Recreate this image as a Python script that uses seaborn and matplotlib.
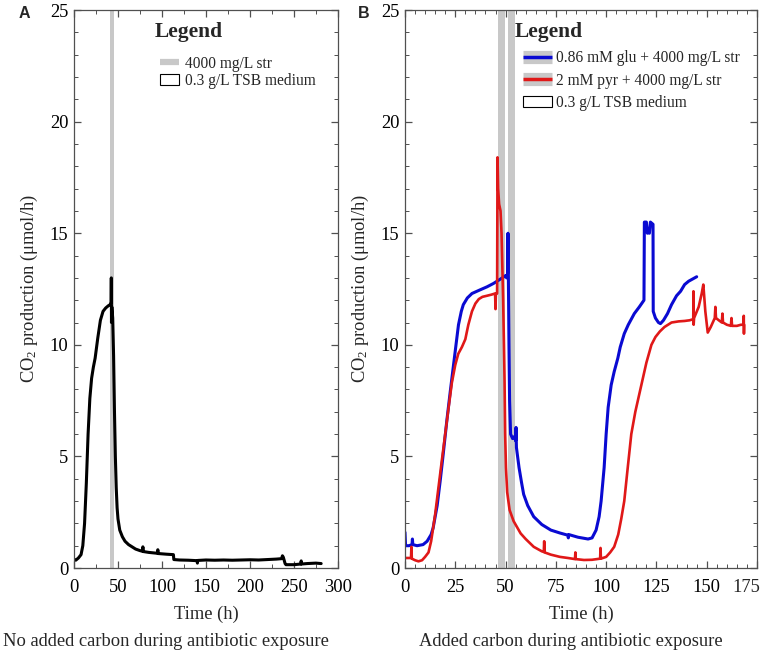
"""CO2 production during antibiotic exposure, with and without added carbon."""

import matplotlib
matplotlib.use("Agg")
import matplotlib.pyplot as plt
import matplotlib.transforms as mtransforms
from matplotlib.lines import Line2D
from matplotlib.patches import Patch
from matplotlib.ticker import FuncFormatter, MultipleLocator
import pandas as pd
import seaborn as sns

# Panel A: 0.3 g/L TSB, no added carbon
a_time = [0, 2, 5, 8, 10, 12, 14, 16, 18, 20, 22, 24, 27, 30, 33, 36, 39, 41,
          42.2, 42.4, 42.6, 43, 44, 45, 46, 47, 48, 49, 50, 52, 55, 58, 62, 66,
          70, 75, 78, 78.3, 78.6, 85, 95, 95.3, 95.6, 105, 113, 113.5, 120, 130,
          140, 140.3, 140.6, 150, 160, 170, 180, 190, 200, 210, 220, 230, 236,
          237, 238, 240, 241, 250, 258, 258.3, 258.6, 265, 275, 281]
a_co2 = [0.4, 0.35, 0.45, 0.6, 1.0, 2.0, 3.8, 6.0, 7.6, 8.5, 9.0, 9.4, 10.3,
         11.1, 11.5, 11.65, 11.75, 11.8, 11.9, 13.0, 11.0, 11.7, 11.2, 9.5, 7.0,
         5.0, 3.6, 2.7, 2.2, 1.7, 1.4, 1.2, 1.05, 0.95, 0.85, 0.78, 0.75, 0.95,
         0.74, 0.7, 0.66, 0.82, 0.65, 0.62, 0.6, 0.38, 0.36, 0.35, 0.33, 0.22,
         0.34, 0.36, 0.35, 0.36, 0.35, 0.36, 0.37, 0.36, 0.38, 0.4, 0.42, 0.55,
         0.48, 0.2, 0.15, 0.15, 0.18, 0.32, 0.18, 0.2, 0.22, 0.2]

# Panel B: 0.86 mM glucose + 4000 mg/L streptomycin
glu_time = [0, 0.3, 2, 3.5, 3.7, 3.9, 6, 9, 11, 13, 14, 16, 17.5, 19, 20.8,
            22.5, 24, 25.5, 26.6, 28, 29, 31, 33.3, 37, 40.8, 44, 47.5, 50, 50.5,
            51, 51.2, 51.4, 51.7, 52, 52.5, 53.5, 54.5, 55, 55.2, 55.4, 56.7, 58,
            59, 61, 64, 68, 72.5, 77, 81, 81.2, 81.4, 86, 91, 93, 95, 96.5, 97.5,
            99, 100, 101, 102.5, 104, 105.8, 107, 109, 111, 114, 116.5, 118.8,
            119.0, 120, 120.5, 121, 121.5, 122, 123.3, 123.4, 124.5, 126, 127,
            128.5, 130.5, 132.5, 135, 137, 139, 141, 143, 145]
glu_co2 = [1.6, 1.0, 1.0, 1.05, 1.3, 1.05, 1.0, 1.05, 1.2, 1.5, 1.8, 2.8, 3.9,
           5.1, 6.6, 7.9, 9.0, 10.1, 10.9, 11.5, 11.8, 12.1, 12.3, 12.45, 12.6,
           12.75, 12.95, 13.1, 13.0, 13.2, 15.0, 13.0, 10.0, 7.5, 6.0, 5.8, 5.9,
           5.7, 6.3, 5.4, 4.5, 3.8, 3.3, 2.8, 2.3, 1.95, 1.7, 1.57, 1.47, 1.35,
           1.5, 1.38, 1.3, 1.35, 1.7, 2.3, 3.0, 4.5, 6.0, 7.2, 8.2, 8.8, 9.4, 9.9,
           10.5, 10.9, 11.4, 11.7, 12.0, 15.5, 15.5, 15.0, 15.2, 15.0, 15.5, 15.4,
           11.5, 11.2, 11.0, 10.95, 11.1, 11.4, 11.8, 12.2, 12.4, 12.7, 12.85,
           12.95, 13.05]

# Panel B: 2 mM pyruvate + 4000 mg/L streptomycin
pyr_time = [0, 2, 3, 3.2, 3.4, 5, 6.7, 8.5, 10, 11.7, 13, 14, 15, 16.5, 18.3,
            20, 21.7, 23.3, 25, 26.5, 28.3, 30, 30.8, 31.5, 33.3, 35, 36.7, 38.5,
            40.8, 43, 44.8, 45, 45.2, 45.8, 46.0, 46.3, 46.8, 47.5, 48, 48.4, 48.8,
            49.2, 49.5, 49.8, 50.2, 50.8, 52, 54, 57.5, 60, 64, 68, 69, 69.2, 69.4,
            72.5, 77, 81, 84.5, 84.7, 84.9, 89, 93, 97, 97.2, 97.4, 100, 102, 104,
            106, 107.5, 109, 110.5, 112.5, 114.5, 117.5, 120, 122.5, 124.5, 126.7,
            129, 132.5, 136, 139, 141.5, 143.3, 143.4, 143.5, 143.7, 146, 147.5,
            148.3, 149.3, 150.5, 152, 154, 154.3, 154.6, 156, 157.5, 157.8, 158.1,
            160, 162, 162.3, 162.6, 165, 167, 168.3, 168.4, 168.5, 168.6]
pyr_co2 = [0.45, 0.45, 0.45, 0.95, 0.42, 0.35, 0.3, 0.35, 0.5, 0.7, 1.2, 1.8,
           2.4, 3.5, 4.8, 6.0, 7.2, 8.3, 9.1, 9.6, 9.9, 10.25, 10.6, 10.9, 11.5,
           11.85, 12.05, 12.15, 12.2, 12.25, 12.3, 11.6, 12.3, 12.3, 18.4, 17.0,
           16.3, 16.0, 15.0, 13.5, 12.0, 10.0, 8.4, 6.0, 4.5, 3.4, 2.6, 2.1, 1.55,
           1.3, 0.95, 0.75, 0.72, 1.2, 0.7, 0.6, 0.5, 0.45, 0.4, 0.7, 0.4, 0.36,
           0.37, 0.42, 0.9, 0.42, 0.5, 0.7, 0.95, 1.5, 2.2, 3.0, 4.3, 6.0, 7.0,
           8.2, 9.2, 10.0, 10.35, 10.6, 10.8, 11.0, 11.05, 11.07, 11.1, 11.15,
           12.4, 10.9, 11.2, 11.7, 12.3, 12.7, 11.5, 10.55, 10.8, 11.2, 11.7,
           11.2, 11.1, 11.0, 11.4, 11.0, 10.9, 10.85, 11.2, 10.85, 10.85, 10.9,
           10.9, 11.3, 10.5, 10.9]

# streptomycin exposure windows (h)
a_str_windows = [(41, 46)]
b_str_windows = [(46, 49.5), (51, 54.5)]

a_legend_labels = ["4000 mg/L str", "0.3 g/L TSB medium"]
b_legend_labels = ["0.86 mM glu + 4000 mg/L str", "2 mM pyr + 4000 mg/L str",
                   "0.3 g/L TSB medium"]

SERIF = "Liberation Serif"
STR_GRAY = "#c8c8c8"
GLU_BLUE = "#0a0ad2"
PYR_RED = "#e01818"
FS = 13.3
XPAD = 8

sns.set_theme(style="ticks")
plt.rcParams["font.family"] = [SERIF, "DejaVu Serif"]
plt.rcParams["mathtext.fontset"] = "custom"
plt.rcParams["mathtext.rm"] = SERIF
plt.rcParams["mathtext.it"] = SERIF + ":italic"
plt.rcParams["axes.edgecolor"] = "#505050"
plt.rcParams["axes.linewidth"] = 0.9


def _style_axes(ax, xmax, xmajor, xminor):
    ax.set_xlim(0, xmax)
    ax.set_ylim(0, 25)
    ax.xaxis.set_major_locator(MultipleLocator(xmajor))
    ax.xaxis.set_minor_locator(MultipleLocator(xminor))
    ax.yaxis.set_major_locator(MultipleLocator(5))
    ax.yaxis.set_minor_locator(MultipleLocator(1))
    ax.tick_params(which="both", direction="in", top=True, right=True,
                   color="#505050", labelsize=FS, labelcolor="black")
    ax.tick_params(which="major", length=5, width=0.9)
    ax.tick_params(which="minor", length=3, width=0.7)
    ax.tick_params(axis="x", which="major", pad=XPAD)
    ax.tick_params(axis="y", which="major", pad=4)
    ax.set_xlabel("Time (h)", fontsize=FS, labelpad=7)
    ax.set_ylabel("CO$_2$ production (μmol/h)", fontsize=FS, labelpad=7)
    ax.grid(False)


def _legend(ax, handles, labels, x, y, title_x, handlelength, textpad, spacing):
    ax.text(title_x, 0.9606, "Legend", transform=ax.transAxes, ha="left",
            va="center", fontsize=15.5, fontweight="bold")
    ax.legend(handles, labels, loc="upper left", bbox_to_anchor=(x, y),
              borderaxespad=0, borderpad=0, frameon=False, fontsize=11.2,
              handlelength=handlelength, handletextpad=textpad,
              labelspacing=spacing)


fig = plt.figure(figsize=(7.67, 6.56), dpi=100)
ax_a = fig.add_axes([0.0965, 0.1341, 0.344, 0.8506])
ax_b = fig.add_axes([0.528, 0.1341, 0.459, 0.8506])

# ---- panel A
for lo, hi in a_str_windows:
    ax_a.axvspan(lo, hi, color=STR_GRAY, lw=0, zorder=0)
df_a = pd.DataFrame({"time": a_time, "co2": a_co2})
sns.lineplot(data=df_a, x="time", y="co2", ax=ax_a, sort=False, estimator=None,
             color="black", lw=2.2)
_style_axes(ax_a, 300, 50, 25)
handles_a = [Line2D([], [], color=STR_GRAY, lw=4.5, solid_capstyle="butt"),
             Patch(facecolor="white", edgecolor="black", lw=0.8)]
_legend(ax_a, handles_a, a_legend_labels, 0.326, 0.918, 0.307, 1.25, 0.35, 0.08)

# ---- panel B
for lo, hi in b_str_windows:
    ax_b.axvspan(lo, hi, color=STR_GRAY, lw=0, zorder=0)
df_glu = pd.DataFrame({"time": glu_time, "co2": glu_co2})
df_pyr = pd.DataFrame({"time": pyr_time, "co2": pyr_co2})
sns.lineplot(data=df_glu, x="time", y="co2", ax=ax_b, sort=False,
             estimator=None, color=GLU_BLUE, lw=2.2)
sns.lineplot(data=df_pyr, x="time", y="co2", ax=ax_b, sort=False,
             estimator=None, color=PYR_RED, lw=1.9)
_style_axes(ax_b, 175, 25, 5)
handles_b = [(Line2D([], [], color=STR_GRAY, lw=9.5, solid_capstyle="butt"),
              Line2D([], [], color=GLU_BLUE, lw=2.5, solid_capstyle="butt")),
             (Line2D([], [], color=STR_GRAY, lw=9.5, solid_capstyle="butt"),
              Line2D([], [], color=PYR_RED, lw=2.5, solid_capstyle="butt")),
             Patch(facecolor="white", edgecolor="black", lw=0.8)]
_legend(ax_b, handles_b, b_legend_labels, 0.335, 0.928, 0.3125, 1.9, 0.2, 0.42)

# the last x tick label of panel B sits flush with the figure edge
b_xmax = ax_b.get_xlim()[1]
ax_b.xaxis.set_major_formatter(
    FuncFormatter(lambda v, _: "" if v >= b_xmax else f"{v:g}"))
text_trans, text_va, _ = ax_b.get_xaxis_text1_transform(XPAD)
ax_b.text(b_xmax, 0, f"{b_xmax:g}", fontsize=FS, va=text_va, ha="right",
          transform=text_trans + mtransforms.ScaledTranslation(
              3 / 100, 0, fig.dpi_scale_trans))

# panel letters and captions
fig.text(19 / 767, 1 - 13 / 656, "A", family="Liberation Sans", weight="bold",
         fontsize=11.5, ha="left", va="center")
fig.text(358 / 767, 1 - 13 / 656, "B", family="Liberation Sans", weight="bold",
         fontsize=11.5, ha="left", va="center")
fig.text(166 / 767, 1 - 642 / 656, "No added carbon during antibiotic exposure",
         fontsize=FS, ha="center", va="center")
fig.text(571 / 767, 1 - 642 / 656, "Added carbon during antibiotic exposure",
         fontsize=FS, ha="center", va="center")

fig.savefig("out.png", dpi=100)
plt.close(fig)
